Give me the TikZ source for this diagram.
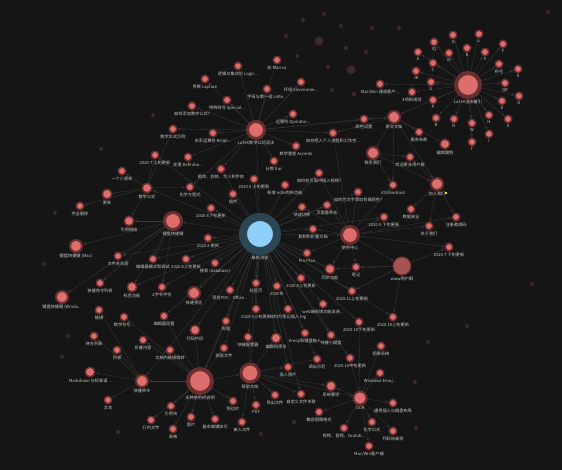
\documentclass[tikz,border=0pt]{standalone}
\usepackage{fontspec}
\setmainfont{Noto Sans CJK SC}
\pgfdeclarelayer{back}
\pgfdeclarelayer{links}
\pgfsetlayers{back,links,main}
\definecolor{bgcol}{HTML}{151515}
\definecolor{nodecol}{HTML}{DE6E6E}
\definecolor{ringcol}{HTML}{6A2F2F}
\definecolor{hubcol}{HTML}{8FD0FA}
\definecolor{hubring}{HTML}{2D4654}
\definecolor{txtcol}{HTML}{C8C8C8}
\definecolor{edgecol}{HTML}{3C3C3C}
\begin{document}
\begin{tikzpicture}[x=1pt,y=-1pt,>=stealth,
    main node/.style={circle,inner sep=0pt,minimum size=7.5pt,line width=1.5pt,fill=nodecol,draw=ringcol,label={[txt]below:#1}},
    tier a/.style={minimum size=9.5pt,line width=1.5pt},
    tier b/.style={minimum size=12pt,line width=2pt},
    tier c/.style={minimum size=17pt,line width=3pt},
    tier d/.style={minimum size=24pt,line width=4pt},
    hub node/.style={circle,inner sep=0pt,minimum size=34pt,line width=8pt,fill=hubcol,draw=hubring,label={[txt]below:#1}},
    ghost/.style={circle,inner sep=0pt,minimum size=4pt,fill=nodecol,opacity=0.22},
    txt/.style={text=txtcol,font=\fontsize{4.2}{5}\selectfont,inner sep=0.4pt,label distance=0.6pt},
    link/.style={draw=edgecol,line width=0.3pt,->,shorten >=0.5pt}]
  \useasboundingbox (0,0) rectangle (562,470);
  \begin{pgfonlayer}{back}
    \fill[bgcol] (0,0) rectangle (562,470);
  \end{pgfonlayer}

  \node[hub node=最新消息] (0) at (260,234) {};

  \node[main node=LaTeX渲染着引, tier d] (1) at (468,85) {};
  \node[main node=G] (2) at (453,35) {};
  \node[main node=L] (3) at (479,34) {};
  \node[main node=IQ] (4) at (434,42) {};
  \node[main node=F] (5) at (503,44) {};
  \node[main node=A] (6) at (418,52) {};
  \node[main node=M] (7) at (449,53) {};
  \node[main node=E] (8) at (467,48) {};
  \node[main node=V] (9) at (485,52) {};
  \node[main node=C] (10) at (433,63) {};
  \node[main node=符号] (11) at (499,64) {};
  \node[main node=X] (12) at (518,69) {};
  \node[main node=JK] (13) at (416,71) {};
  \node[main node=U] (14) at (431,82) {};
  \node[main node=QR] (15) at (505,83) {};
  \node[main node=O] (16) at (519,96) {};
  \node[main node=P] (17) at (433,100) {};
  \node[main node=D] (18) at (502,101) {};
  \node[main node=B] (19) at (436,118) {};
  \node[main node=N] (20) at (454,119) {};
  \node[main node=H] (21) at (489,115) {};
  \node[main node=S] (22) at (508,119) {};
  \node[main node=W] (23) at (472,123) {};
  \node[main node=I] (24) at (489,134) {};
  \node[main node=T] (25) at (472,142) {};

  \node[main node=LaTeX数学公式语法, tier c] (30) at (256,130) {};
  \node[main node={逻辑与集合论 Logic...}] (31) at (238,66) {};
  \node[main node={宏 Macros}] (32) at (277,60) {};
  \node[main node={导数 Laplace}] (33) at (205,79) {};
  \node[main node={字母与第一组 Lette...}] (34) at (267,89) {};
  \node[main node={环境 Environme...}] (35) at (301,82) {};
  \node[main node={特殊符号 Special...}] (36) at (227,100) {};
  \node[main node={如何添加数学公式?}] (37) at (192,106) {};
  \node[main node={运算符 Operator...}] (38) at (293,114) {};
  \node[main node={关系运算符 Relati...}] (39) at (213,133) {};
  \node[main node={数学重音 Accents}] (40) at (296,146) {};
  \node[main node=数学公式示例] (41) at (173,129) {};
  \node[main node={定理 Definitio...}] (42) at (188,157) {};
  \node[main node={分数 frac}] (43) at (274,161) {};
  \node[main node={粗体、斜体、大小和字体}] (44) at (221,169) {};
  \node[main node=化学方程式] (45) at (190,187) {};

  \node[main node={Mac/Win 通道客户...}] (50) at (380,84) {};
  \node[main node=4项新规则] (51) at (412,92) {};
  \node[main node=原文文档, tier b] (52) at (394,117) {};
  \node[main node=服务条款] (53) at (419,132) {};
  \node[main node=编辑案例, tier a] (54) at (445,144) {};
  \node[main node=联系我们, tier b] (55) at (373,153) {};
  \node[main node=颜色设置] (56) at (364,119) {};
  \node[main node=如何把入个人流程和工作空...] (57) at (333,133) {};
  \node[main node=欢迎更多用户群] (58) at (410,157) {};
  \node[main node=如何在页面中插入视频?] (59) at (319,173) {};
  \node[main node=iOS/Android] (60) at (393,185) {};
  \node[main node=加入我们, tier b] (61) at (437,184) {};
  \node[main node=如何为文字添加背景颜色?] (62) at (358,192) {};
  \node[main node=数据安全] (63) at (411,209) {};
  \node[main node={2020.9 下旬更新}] (64) at (384,217) {};
  \node[main node=注册邀请码] (65) at (456,217) {};
  \node[main node=关于我们] (66) at (429,226) {};
  \node[main node=使用中心, tier c] (67) at (350,235) {};
  \node[main node={2020.7 下旬更新}] (68) at (449,247) {};
  \node[main node=www用户群, minimum size=18pt, line width=1pt, fill=nodecol!75!black] (69) at (402,266) {};
  \node[main node={新增 note的新功能}] (70) at (285,185) {};
  \node[main node={2020.5 上旬更新}] (71) at (254,179) {};
  \node[main node=插件] (72) at (233,194) {};
  \node[main node=2020.6下旬更新] (73) at (211,208) {};
  \node[main node=快速切换] (74) at (302,207) {};
  \node[main node=页面重命名] (75) at (327,205) {};
  \node[main node=复制和折叠文档] (76) at (313,229) {};
  \node[main node={2020.8 更新}] (77) at (208,238) {};
  \node[main node={Pro Plan}] (78) at (307,253) {};
  \node[main node={搜索 (database)}] (79) at (215,263) {};
  \node[main node=同步功能, tier a] (80) at (330,269) {};
  \node[main node=笔记] (81) at (356,267) {};
  \node[main node=2020.8上旬更新] (82) at (301,278) {};
  \node[main node=2020年] (83) at (277,286) {};
  \node[main node=标签页] (84) at (256,283) {};
  \node[main node={预览PDF、Office...}] (85) at (230,290) {};
  \node[main node=快速预览, tier b] (86) at (194,293) {};
  \node[main node=2020.11上旬更新] (87) at (352,291) {};
  \node[main node=web端新增功能改进...] (88) at (323,304) {};
  \node[main node=2020.9上旬更新] (89) at (256,309) {};
  \node[main node={如何为笔记插入 log}] (90) at (288,309) {};
  \node[main node=2020.10上旬更新] (91) at (393,317) {};
  \node[main node=2020.10下旬更新] (92) at (359,322) {};

  \node[main node={2020.7 上旬更新}] (100) at (155,155) {};
  \node[main node=一个小更新] (101) at (122,171) {};
  \node[main node=数学公式, tier a] (102) at (147,188) {};
  \node[main node=更新, tier a] (103) at (107,194) {};
  \node[main node=完全删除] (104) at (80,206) {};
  \node[main node=键盘快捷键, tier c] (106) at (173,221) {};
  \node[main node=引用链接, tier a] (107) at (129,221) {};
  \node[main node={键盘快捷键 (Mac)}, tier b] (108) at (76,246) {};
  \node[main node=文件关系图] (109) at (118,256) {};
  \node[main node=编辑器模式和调试] (110) at (153,259) {};
  \node[main node=2020.6上旬更新] (111) at (186,259) {};
  \node[main node=快捷命令列表] (112) at (100,283) {};
  \node[main node=标签功能, tier a] (113) at (132,287) {};
  \node[main node=2字节字符] (114) at (162,287) {};
  \node[main node={键盘快捷键 (Windo...}, tier b] (115) at (62,297) {};
  \node[main node=链接] (116) at (99,310) {};
  \node[main node=数学符号...] (117) at (124,317) {};
  \node[main node=编辑器设置] (118) at (164,316) {};
  \node[main node=待办列表] (119) at (94,336) {};
  \node[main node=折叠内容] (120) at (143,340) {};
  \node[main node=列表] (121) at (117,350) {};
  \node[main node=文档内链接跳转] (122) at (170,350) {};
  \node[main node={Markdown 与标准语...}, tier a] (123) at (90,372) {};
  \node[main node=快捷命令, tier b] (124) at (142,381) {};
  \node[main node=文本] (125) at (108,400) {};
  \node[main node=引用块] (126) at (171,406) {};
  \node[main node=行内文字] (127) at (151,420) {};
  \node[main node=表格] (128) at (173,429) {};

  \node[main node=标题] (130) at (226,321) {};
  \node[main node=代码片段, tier a] (131) at (195,330) {};
  \node[main node=快捷配置器] (132) at (248,337) {};
  \node[main node=编辑和预览, tier a] (133) at (276,338) {};
  \node[main node=Emoji和键盘输入] (134) at (305,333) {};
  \node[main node=快捷小键盘] (135) at (331,335) {};
  \node[main node=高亮文字] (136) at (224,348) {};
  \node[main node=调出示范] (137) at (317,359) {};
  \node[main node=2020.10中旬更新] (138) at (350,358) {};
  \node[main node=插入图片] (139) at (288,367) {};
  \node[main node=多种使用的说明, tier d] (140) at (200,381) {};
  \node[main node=帮助文档, tier c, minimum size=18pt] (141) at (250,373) {};
  \node[main node=导出文件] (142) at (275,395) {};
  \node[main node=自定义文件关联] (143) at (301,394) {};
  \node[main node=系统要求, tier a] (144) at (331,386) {};
  \node[main node=OCR, tier b, minimum size=13pt] (145) at (360,398) {};
  \node[main node=侧边栏] (146) at (233,401) {};
  \node[main node=PDF] (147) at (256,405) {};
  \node[main node=图片] (148) at (191,417) {};
  \node[main node=基本编辑技巧] (149) at (215,419) {};
  \node[main node=嵌入文件] (150) at (242,422) {};
  \node[main node=兼容图像格式] (151) at (319,412) {};
  \node[main node={视频、音频、Youtub...}] (152) at (344,428) {};
  \node[main node=化学公式] (153) at (372,422) {};
  \node[main node=Mac/Win客户端] (154) at (369,446) {};
  \node[main node={Windows Emoj...}] (155) at (380,373) {};
  \node[main node=图表系统] (156) at (381,346) {};
  \node[main node=通用插入与键盘布局] (157) at (393,403) {};
  \node[main node=代码块高亮] (158) at (393,431) {};
  \node[fill=yellow!85!orange, inner sep=0pt, minimum size=2.5pt] (160) at (446,193) {};

  \node[ghost] (200) at (324,14) {};
  \node[ghost] (201) at (303,20) {};
  \node[ghost] (202) at (286,36) {};
  \node[ghost, minimum size=9pt] (203) at (319,41) {};
  \node[ghost] (204) at (341,26) {};
  \node[ghost] (205) at (346,48) {};
  \node[ghost] (206) at (372,28) {};
  \node[ghost] (207) at (297,56) {};
  \node[ghost] (208) at (328,67) {};
  \node[ghost, minimum size=9pt] (209) at (351,70) {};
  \node[ghost] (210) at (366,52) {};
  \node[ghost] (211) at (332,90) {};
  \node[ghost] (212) at (354,94) {};
  \node[ghost] (213) at (548,12) {};
  \node[ghost] (214) at (399,28) {};
  \node[ghost] (215) at (153,115) {};
  \node[ghost] (216) at (101,149) {};
  \node[ghost] (217) at (55,213) {};
  \node[ghost] (218) at (44,264) {};
  \node[ghost] (219) at (68,336) {};
  \node[ghost] (220) at (62,357) {};
  \node[ghost] (221) at (118,432) {};
  \node[ghost] (222) at (294,422) {};
  \node[ghost] (223) at (261,434) {};
  \node[ghost] (224) at (467,326) {};
  \node[ghost] (225) at (428,342) {};
  \node[ghost] (226) at (415,382) {};
  \node[ghost] (227) at (416,428) {};
  \node[ghost] (228) at (532,284) {};

  \begin{pgfonlayer}{links}
  \path[every edge/.style=link]
    (0) edge (71) edge (72) edge (73) edge (77) edge (79) edge (74) edge (75) edge (76)
        edge (78) edge (82) edge (83) edge (84) edge (85) edge (86) edge (87) edge (88)
        edge (89) edge (90) edge (92) edge (100) edge (111) edge (138) edge (64) edge (67)
        edge (59) edge (62) edge (70) edge (44) edge (106) edge (141) edge (140) edge (131)
        edge (133) edge (80) edge (113) edge (124) edge (102) edge (30) edge (91) edge (136)
        edge (130) edge (132) edge (134) edge (135) edge (137) edge (139) edge (143) edge (114)
        edge (118) edge (110) edge (109)
    (30) edge (31) edge (32) edge (33) edge (34) edge (35) edge (36) edge (37) edge (38)
         edge (39) edge (40) edge (41) edge (42) edge (43) edge (44) edge (45)
         edge (52) edge (56) edge (57)
    (1) edge (2) edge (3) edge (4) edge (5) edge (6) edge (7) edge (8) edge (9) edge (10)
        edge (11) edge (12) edge (13) edge (14) edge (15) edge (16) edge (17) edge (18)
        edge (19) edge (20) edge (21) edge (22) edge (23) edge (24) edge (25)
        edge (50) edge (51) edge (52)
    (52) edge (53) edge (54) edge (55) edge (57) edge (60) edge (61) edge (56)
    (55) edge (58) edge (61) edge (60)
    (67) edge (74) edge (75) edge (76) edge (78) edge (62) edge (59) edge (60) edge (64)
         edge (65) edge (66) edge (68) edge (69) edge (81) edge (80) edge (57)
    (61) edge (58) edge (63) edge (66) edge (65)
    (69) edge (68) edge (87) edge (91) edge (80) edge (81)
    (106) edge (108) edge (115) edge (107) edge (110) edge (112) edge (113) edge (114) edge (109)
    (140) edge (124) edge (141) edge (148) edge (149) edge (146) edge (131) edge (136) edge (130)
          edge (126) edge (127) edge (128) edge (120) edge (122) edge (118) edge (117)
    (124) edge (123) edge (125) edge (119) edge (121) edge (116)
    (141) edge (142) edge (143) edge (147) edge (150) edge (139) edge (133) edge (132)
          edge (137) edge (145) edge (144)
    (145) edge (151) edge (152) edge (153) edge (154) edge (155) edge (157) edge (158)
          edge (144) edge (156) edge (138) edge (92)
    (102) edge (100) edge (101) edge (103) edge (104) edge (107) edge (45) edge (41)
  ;
  \end{pgfonlayer}
\end{tikzpicture}
\end{document}
